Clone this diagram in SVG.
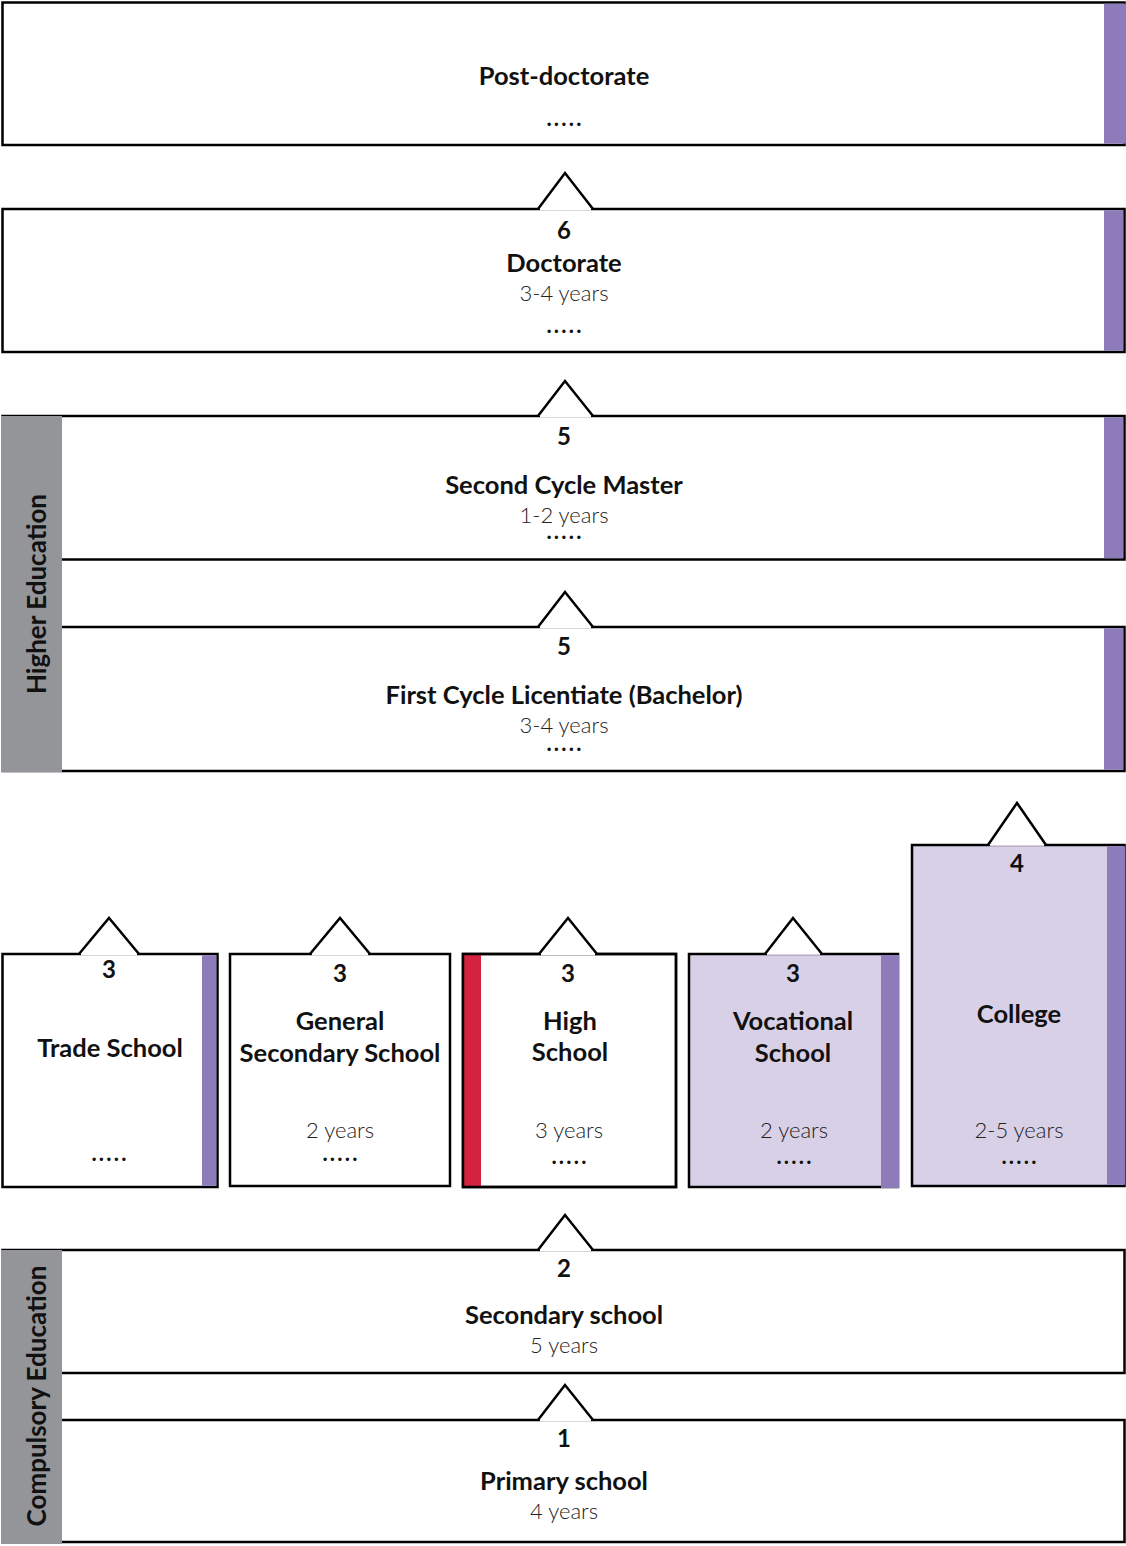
<svg xmlns="http://www.w3.org/2000/svg" width="1126" height="1546" viewBox="0 0 1126 1546">
<style>
.box{fill:#fff;stroke:#000;stroke-width:2.5}
.boxl{fill:#d8d0e7;stroke:#000;stroke-width:2.5}
.edge{fill:none;stroke:#000;stroke-width:2.5}
.bar{fill:#8e7cba}
.red{fill:#d42240}
.band{fill:#939598}
.t{font-family:Lato,"Liberation Sans",sans-serif;text-anchor:middle;fill:#111}
.b{font-weight:700;font-size:25.5px}
.n{font-weight:700;font-size:24px}
.y{font-weight:300;font-size:22px;fill:#222}
.d{font-weight:700;font-size:22px;letter-spacing:2.2px}
.side{font-weight:700;font-size:26px}
.arrow{fill:none;stroke:#000;stroke-width:2.5;stroke-linejoin:miter}
.cw{fill:#fff}
.cl{fill:#d8d0e7}
</style>
<rect width="1126" height="1546" fill="#fff"/>

<g id="post-doctorate">
<rect class="box" x="2.5" y="2.5" width="1122" height="142.5"/>
<rect class="bar" x="1104" y="3.7" width="22" height="140"/>
<text class="t b" x="564" y="85">Post-doctorate</text>
<text class="t d" x="565" y="126">.....</text>
</g>

<g id="doctorate">
<rect class="box" x="2.5" y="209" width="1122" height="143"/>
<rect class="bar" x="1104" y="210.2" width="19.2" height="140.6"/>
<text class="t n" x="564" y="239">6</text>
<text class="t b" x="564" y="272">Doctorate</text>
<text class="t y" x="564" y="301">3-4 years</text>
<text class="t d" x="565" y="333">.....</text>
</g>

<g id="second-cycle">
<rect class="box" x="2.5" y="416" width="1122" height="143.5"/>
<rect class="bar" x="1104" y="417.2" width="19.2" height="141"/>
<text class="t n" x="564" y="445">5</text>
<text class="t b" x="564" y="494">Second Cycle Master</text>
<text class="t y" x="564" y="523">1-2 years</text>
<text class="t d" x="565" y="539">.....</text>
</g>

<g id="first-cycle">
<rect class="box" x="2.5" y="627" width="1122" height="144"/>
<rect class="bar" x="1104" y="628.2" width="19.2" height="141.6"/>
<text class="t n" x="564" y="655">5</text>
<text class="t b" x="564" y="704">First Cycle Licentiate (Bachelor)</text>
<text class="t y" x="564" y="733">3-4 years</text>
<text class="t d" x="565" y="751">.....</text>
</g>

<g id="higher-education">
<rect class="band" x="1" y="416" width="61" height="356"/>
<text class="t side" transform="translate(46,594) rotate(-90)">Higher Education</text>
</g>

<g id="trade-school">
<rect class="box" x="2.5" y="954" width="215" height="233"/>
<rect class="bar" x="202" y="955.2" width="14.3" height="230.6"/>
<text class="t n" x="109" y="978">3</text>
<text class="t b" x="110" y="1057">Trade School</text>
<text class="t d" x="110" y="1161">.....</text>
</g>

<g id="general-secondary">
<rect class="box" x="230" y="954" width="220" height="232"/>
<text class="t n" x="340" y="982">3</text>
<text class="t b" x="340" y="1030">General</text>
<text class="t b" x="340" y="1062">Secondary School</text>
<text class="t y" x="340" y="1138">2 years</text>
<text class="t d" x="341" y="1161">.....</text>
</g>

<g id="high-school">
<rect class="box" x="463" y="954" width="213" height="233"/>
<rect class="red" x="463" y="955" width="18" height="231"/>
<rect class="edge" x="463" y="954" width="213" height="233"/>
<text class="t n" x="568" y="982">3</text>
<text class="t b" x="570" y="1030">High</text>
<text class="t b" x="570" y="1061">School</text>
<text class="t y" x="569" y="1138">3 years</text>
<text class="t d" x="570" y="1164">.....</text>
</g>

<g id="vocational-school">
<rect class="boxl" x="689" y="954" width="209" height="233"/>
<rect class="bar" x="881" y="955" width="18" height="233"/>
<text class="t n" x="793" y="982">3</text>
<text class="t b" x="793" y="1030">Vocational</text>
<text class="t b" x="793" y="1062">School</text>
<text class="t y" x="794" y="1138">2 years</text>
<text class="t d" x="795" y="1164">.....</text>
</g>

<g id="college">
<rect class="boxl" x="912" y="845" width="212.5" height="341"/>
<rect class="bar" x="1107" y="846.2" width="18" height="338.6"/>
<text class="t n" x="1017" y="872">4</text>
<text class="t b" x="1019" y="1023">College</text>
<text class="t y" x="1019" y="1138">2-5 years</text>
<text class="t d" x="1020" y="1164">.....</text>
</g>

<g id="secondary-school">
<rect class="box" x="2.5" y="1250" width="1122" height="123"/>
<text class="t n" x="564" y="1277">2</text>
<text class="t b" x="564" y="1324">Secondary school</text>
<text class="t y" x="564" y="1353">5 years</text>
</g>

<g id="primary-school">
<rect class="box" x="2.5" y="1420" width="1122" height="122"/>
<text class="t n" x="564" y="1447">1</text>
<text class="t b" x="564" y="1490">Primary school</text>
<text class="t y" x="564" y="1519">4 years</text>
</g>

<g id="compulsory-education">
<rect class="band" x="1" y="1250" width="61" height="294"/>
<text class="t side" transform="translate(46,1396) rotate(-90)">Compulsory Education</text>
</g>

<g id="connectors">
<rect class="cw" x="540" y="207.6" width="51" height="2.8"/>
<path class="arrow cw" d="M538,209 L565,173 L593,209"/>
<rect class="cw" x="540" y="414.6" width="51" height="2.8"/>
<path class="arrow cw" d="M538,416 L565,381 L593,416"/>
<rect class="cw" x="540" y="625.6" width="51" height="2.8"/>
<path class="arrow cw" d="M538,627 L565,592 L593,627"/>
<rect class="cw" x="81" y="952.6" width="56" height="2.8"/>
<path class="arrow cw" d="M79,954 L109,918 L139,954"/>
<rect class="cw" x="312" y="952.6" width="56" height="2.8"/>
<path class="arrow cw" d="M310,954 L340,918 L370,954"/>
<rect class="cw" x="541" y="952.6" width="54" height="2.8"/>
<path class="arrow cw" d="M539,954 L568,918 L597,954"/>
<rect class="cl" x="767" y="952.6" width="53" height="2.8"/>
<path class="arrow cw" d="M765,954 L793,918 L822,954"/>
<rect class="cl" x="990" y="843.6" width="54" height="2.8"/>
<path class="arrow cw" d="M988,845 L1017,803 L1046,845"/>
<rect class="cw" x="540" y="1248.6" width="51" height="2.8"/>
<path class="arrow cw" d="M538,1250 L565,1215 L593,1250"/>
<rect class="cw" x="540" y="1418.6" width="51" height="2.8"/>
<path class="arrow cw" d="M538,1420 L565,1385 L593,1420"/>
</g>
</svg>
